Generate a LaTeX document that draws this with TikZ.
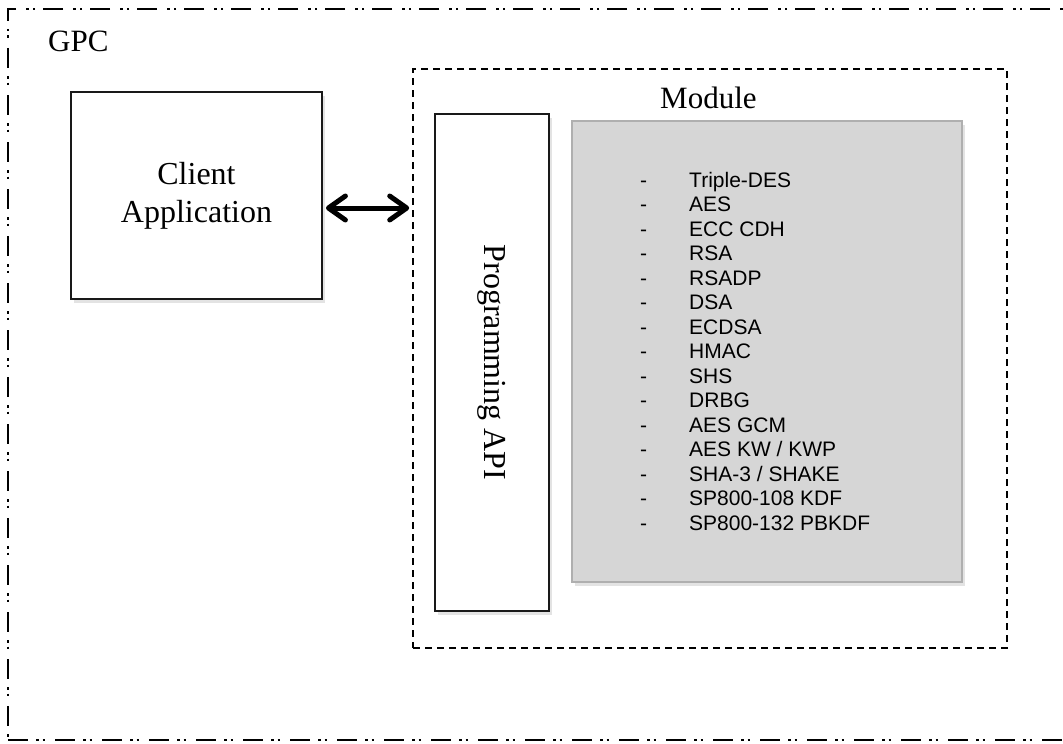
\documentclass[tikz,border=0pt]{standalone}
\usepackage{fontspec}
\setmainfont{Liberation Serif}
\newfontfamily\arialf{Liberation Sans}
\usetikzlibrary{arrows.meta,shadows}
\definecolor{boxgray}{HTML}{D6D6D6}
\definecolor{boxedge}{HTML}{AFAFAF}
\begin{document}
\begin{tikzpicture}[x=1pt,y=-1pt,
  gpcframe/.style={draw=black, line width=2.6pt, inner sep=0pt,
    dash pattern=on 20pt off 8pt on 2.5pt off 4pt on 2.5pt off 10pt},
  modframe/.style={draw=black, line width=1.6pt, inner sep=0pt,
    dash pattern=on 7pt off 5pt},
  whitebox/.style={draw=black!90, line width=1.8pt, fill=white, inner sep=0pt,
    drop shadow={shadow xshift=3pt, shadow yshift=-4pt, opacity=0.22}},
  graybox/.style={draw=boxedge, line width=1.5pt, fill=boxgray, inner sep=0pt,
    drop shadow={shadow xshift=3pt, shadow yshift=-4pt, opacity=0.22}},
  bigtext/.style={font=\fontsize{32}{38}\selectfont},
  listtext/.style={font=\arialf\fontsize{21}{24.5}\selectfont, inner sep=0pt, anchor=base west},
  biarrow/.style={line width=5pt, line cap=round, {Straight Barb[length=17pt,width=24pt,line cap=round,line join=round]}-{Straight Barb[length=17pt,width=24pt,line cap=round,line join=round]}}
]
\useasboundingbox (0,0) rectangle (1063,744);

% outer GPC frame (right edge lies outside the picture)
\node[gpcframe, minimum width=1072pt, minimum height=731pt] (gpc) at (544,374.5) {};
\node[anchor=base west, inner sep=0pt, font=\fontsize{31}{37}\selectfont] (gpclabel) at (48,51) {GPC};

% module frame
\node[modframe, minimum width=594pt, minimum height=579pt] (module) at (710,358.5) {};
\node[anchor=base west, inner sep=0pt, font=\fontsize{31}{37}\selectfont] (modlabel) at (660,108) {Module};

% client application
\node[whitebox, bigtext, align=center, minimum width=251pt, minimum height=207pt] (client) at (196.5,195.5) {Client\\Application};

% programming API
\node[whitebox, minimum width=114pt, minimum height=497pt] (api) at (492,362.5) {};
\node[bigtext, rotate=-90, inner sep=0pt] (apilabel) at (api.center) {Programming API};

% algorithm list
\node[graybox, minimum width=390pt, minimum height=461pt] (algs) at (767,351.5) {};
\foreach \t [count=\i] in {Triple-DES, AES, ECC CDH, RSA, RSADP, DSA, ECDSA, HMAC, SHS, DRBG, AES GCM, AES KW / KWP, SHA-3 / SHAKE, SP800-108 KDF, SP800-132 PBKDF} {
  \node[listtext] (d\i) at (640,{187+24.5*(\i-1)}) {-};
  \node[listtext] (l\i) at (689,{187+24.5*(\i-1)}) {\t};
}

% connector
\draw[biarrow] ([yshift=-12.5pt,xshift=3pt]client.east) -- ([yshift=-12.5pt,xshift=-3pt]client.east -| module.west);
\end{tikzpicture}
\end{document}
